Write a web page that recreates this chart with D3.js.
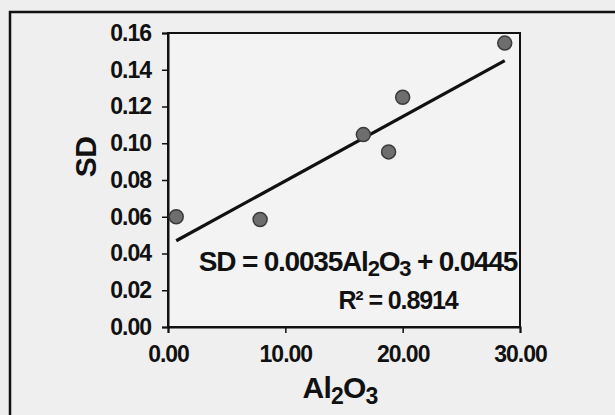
<!DOCTYPE html>
<html>
<head>
<meta charset="utf-8">
<script src="https://cdn.jsdelivr.net/npm/d3@7"></script>
<style>
  body { margin: 0; background: #eeeeee; }
  svg { display: block; font-family: "Liberation Sans", Arial, sans-serif; font-weight: bold; }
</style>
</head>
<body>
<svg id="chart"></svg>
<script>
// Al2O3 vs SD samples
const al2o3 = [0.7, 7.85, 16.65, 18.8, 20.0, 28.7];
const sd = [0.060, 0.0585, 0.1047, 0.0953, 0.125, 0.1545];

// fitted line, as printed on the chart
const slope = 0.0035;
const intercept = 0.0445;
const rSquared = 0.8914;

const xTicks = [0, 10, 20, 30];
const yTicks = [0, 0.02, 0.04, 0.06, 0.08, 0.10, 0.12, 0.14, 0.16];

const width = 615;
const height = 415;

const svg = d3.select('#chart')
  .attr('width', width)
  .attr('height', height);

// outer frame (runs off the right and bottom edge)
svg.append('rect')
  .attr('x', 10)
  .attr('y', 12)
  .attr('width', 640)
  .attr('height', 440)
  .attr('fill', '#efefef')
  .attr('stroke', '#111')
  .attr('stroke-width', 2.5);

const x = d3.scaleLinear()
  .domain([0, 30])
  .range([168, 520]);
const y = d3.scaleLinear()
  .domain([0, 0.16])
  .range([327, 33]);

// plot area
svg.append('rect')
  .attr('x', x(0))
  .attr('y', y(0.16))
  .attr('width', x(30) - x(0))
  .attr('height', y(0) - y(0.16))
  .attr('fill', '#f3f3f3')
  .attr('stroke', '#111')
  .attr('stroke-width', 2);

const xAxis = d3.axisBottom(x)
  .tickValues(xTicks)
  .tickFormat(d3.format('.2f'))
  .tickSize(6)
  .tickPadding(13);
const yAxis = d3.axisLeft(y)
  .tickValues(yTicks)
  .tickFormat(d3.format('.2f'))
  .tickSize(6)
  .tickPadding(11);

const gx = svg.append('g')
  .attr('transform', `translate(0, ${y(0)})`)
  .call(xAxis);
const gy = svg.append('g')
  .attr('transform', `translate(${x(0)}, 0)`)
  .call(yAxis);

[gx, gy].forEach(g => {
  g.select('.domain').attr('stroke', '#111').attr('stroke-width', 2);
  g.selectAll('.tick line').attr('stroke', '#111').attr('stroke-width', 1.5);
  g.selectAll('.tick text')
    .attr('fill', '#111')
    .attr('font-size', 23)
    .attr('font-weight', 'bold')
    .attr('font-family', '"Liberation Sans", Arial, sans-serif')
    .attr('letter-spacing', -1);
});

// trend line across the data range
const xMin = d3.min(al2o3);
const xMax = d3.max(al2o3);
svg.append('line')
  .attr('x1', x(xMin))
  .attr('y1', y(slope * xMin + intercept))
  .attr('x2', x(xMax))
  .attr('y2', y(slope * xMax + intercept))
  .attr('stroke', '#111')
  .attr('stroke-width', 3.2);

// points
svg.selectAll('.pt')
  .data(al2o3.map((v, i) => ({ x: v, y: sd[i] })))
  .enter().append('circle')
    .attr('class', 'pt')
    .attr('cx', d => x(d.x))
    .attr('cy', d => y(d.y))
    .attr('r', 7)
    .attr('fill', '#6e6e6e')
    .attr('stroke', '#3a3a3a')
    .attr('stroke-width', 1.5);

// equation
const eq = svg.append('text')
  .attr('x', 358)
  .attr('y', 271)
  .attr('text-anchor', 'middle')
  .attr('font-size', 28)
  .attr('letter-spacing', -1.2)
  .attr('fill', '#111');
eq.append('tspan').text(`SD = ${slope.toFixed(4)}Al`);
eq.append('tspan').attr('dy', 5).attr('font-size', 22).text('2');
eq.append('tspan').attr('dy', -5).text('O');
eq.append('tspan').attr('dy', 5).attr('font-size', 22).text('3');
eq.append('tspan').attr('dy', -5).text(` + ${intercept.toFixed(4)}`);

svg.append('text')
  .attr('x', 398)
  .attr('y', 309)
  .attr('text-anchor', 'middle')
  .attr('font-size', 25)
  .attr('letter-spacing', -1.1)
  .attr('fill', '#111')
  .text(`R² = ${rSquared.toFixed(4)}`);

// axis titles
const xt = svg.append('text')
  .attr('x', 340)
  .attr('y', 398)
  .attr('text-anchor', 'middle')
  .attr('font-size', 30)
  .attr('letter-spacing', -0.8)
  .attr('fill', '#111');
xt.append('tspan').text('Al');
xt.append('tspan').attr('dy', 6).attr('font-size', 23).text('2');
xt.append('tspan').attr('dy', -6).text('O');
xt.append('tspan').attr('dy', 6).attr('font-size', 23).text('3');

svg.append('text')
  .attr('transform', 'translate(96, 157) rotate(-90)')
  .attr('text-anchor', 'middle')
  .attr('font-size', 30)
  .attr('letter-spacing', -0.5)
  .attr('fill', '#111')
  .text('SD');
</script>
</body>
</html>
